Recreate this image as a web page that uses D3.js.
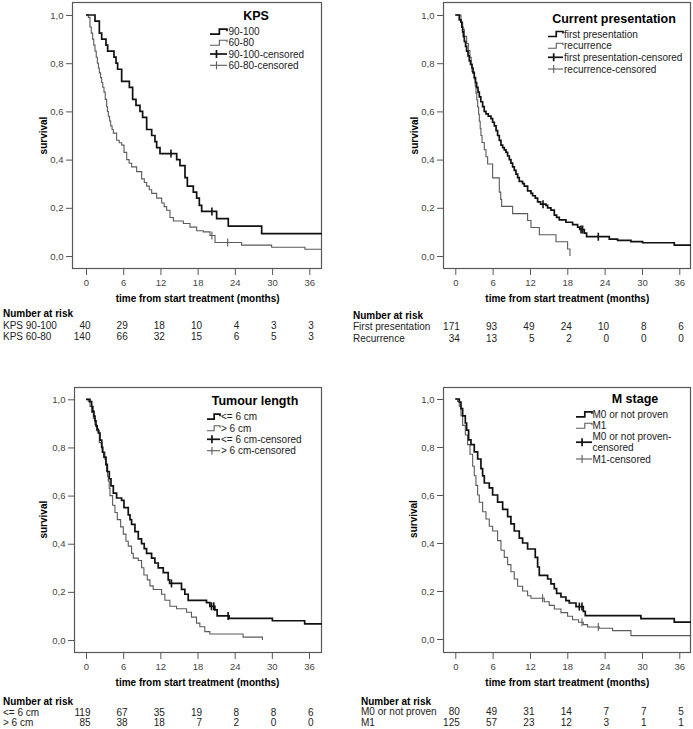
<!DOCTYPE html>
<html>
<head>
<meta charset="utf-8">
<script src="https://cdn.jsdelivr.net/npm/d3@7"></script>
<style>
body { margin: 0; background: #fff; }
svg { font-family: "Liberation Sans", Arial, sans-serif; }
</style>
</head>
<body>
<svg id="chart" width="693" height="729"></svg>
<script>
// axis ticks
var monthTicks = [0, 6, 12, 18, 24, 30, 36];
var survTicks = [0, 0.2, 0.4, 0.6, 0.8, 1.0];

// KPS 90-100 (dark) and 60-80 (grey)
var kpsHighTime = [1.45, 2.15, 2.53, 3.22, 3.49, 4.51, 4.84, 5.1, 5.75, 6.99, 7.52, 8.06, 8.7, 9.13, 9.78, 10.59, 11.12, 11.39, 11.93, 14.62, 15.15, 15.96, 16.34, 17.3, 17.84, 18.27, 18.65, 21.06, 22.94, 28.32];
var kpsHighSurv = [0.975, 0.925, 0.9, 0.875, 0.85, 0.825, 0.8, 0.775, 0.725, 0.7, 0.65, 0.625, 0.6, 0.575, 0.525, 0.5, 0.475, 0.45, 0.425, 0.4, 0.375, 0.325, 0.29, 0.265, 0.24, 0.21, 0.185, 0.155, 0.124, 0.093];
var kpsHighCens = [13.7, 20.3];
var kpsLowTime = [0.38, 0.64, 0.85, 1.07, 1.25, 1.45, 1.65, 1.83, 2.0, 2.15, 2.35, 2.53, 2.7, 2.9, 3.1, 3.33, 3.45, 3.6, 3.8, 3.98, 4.2, 4.41, 4.94, 5.35, 5.75, 6.13, 6.56, 6.95, 7.36, 8.17, 8.97, 9.4, 9.78, 10.2, 10.59, 11.39, 12.2, 12.6, 13.0, 13.54, 14.08, 15.69, 16.77, 17.84, 18.9, 19.99, 20.8, 25.09, 29.93, 35.3];
var kpsLowSurv = [0.99, 0.95, 0.925, 0.9, 0.875, 0.85, 0.825, 0.8, 0.78, 0.76, 0.74, 0.72, 0.7, 0.68, 0.65, 0.62, 0.6, 0.58, 0.56, 0.54, 0.525, 0.51, 0.48, 0.47, 0.46, 0.43, 0.40, 0.385, 0.37, 0.35, 0.32, 0.305, 0.29, 0.275, 0.26, 0.24, 0.22, 0.205, 0.19, 0.16, 0.145, 0.135, 0.12, 0.105, 0.10, 0.085, 0.056, 0.045, 0.036, 0.028];
var kpsLowCens = [20.3, 22.84];
var kpsRiskHigh = [40, 29, 18, 10, 4, 3, 3];
var kpsRiskLow = [140, 66, 32, 15, 6, 5, 3];

// Current presentation
var firstTime = [0.64, 0.91, 1.05, 1.18, 1.3, 1.45, 1.65, 1.82, 2.05, 2.25, 2.45, 2.68, 2.85, 3.05, 3.25, 3.43, 3.65, 3.86, 4.1, 4.39, 4.65, 4.93, 5.3, 5.73, 6.0, 6.27, 6.55, 6.8, 7.07, 7.34, 7.61, 7.87, 8.14, 8.41, 8.68, 8.94, 9.21, 9.48, 9.75, 10.02, 10.28, 10.82, 11.09, 11.62, 12.16, 12.43, 12.85, 13.23, 13.7, 14.57, 14.84, 15.37, 15.91, 16.28, 16.71, 17.78, 18.85, 19.66, 20.0, 20.73, 21.1, 24.75, 26.08, 28.23, 30.1, 35.19];
var firstSurv = [0.98, 0.97, 0.95, 0.93, 0.91, 0.89, 0.87, 0.85, 0.83, 0.81, 0.795, 0.78, 0.76, 0.74, 0.72, 0.70, 0.68, 0.66, 0.64, 0.62, 0.60, 0.59, 0.58, 0.57, 0.555, 0.54, 0.52, 0.50, 0.48, 0.46, 0.45, 0.44, 0.43, 0.415, 0.40, 0.385, 0.37, 0.355, 0.34, 0.325, 0.31, 0.30, 0.29, 0.27, 0.26, 0.25, 0.24, 0.225, 0.215, 0.21, 0.20, 0.19, 0.17, 0.16, 0.15, 0.14, 0.13, 0.12, 0.11, 0.095, 0.08, 0.07, 0.065, 0.06, 0.055, 0.045];
var firstCens = [14.1, 20.2, 20.46, 22.98];
var recTime = [0.91, 1.18, 1.45, 1.82, 2.1, 2.35, 2.55, 2.68, 3.05, 3.2, 3.32, 3.45, 3.59, 3.75, 3.86, 4.0, 4.12, 4.3, 4.66, 4.93, 5.2, 6.0, 7.07, 7.3, 7.45, 9.21, 11.62, 12.16, 13.5, 16.18, 18.05, 18.43];
var recSurv = [0.971, 0.941, 0.912, 0.882, 0.853, 0.824, 0.794, 0.765, 0.735, 0.706, 0.676, 0.647, 0.618, 0.588, 0.559, 0.529, 0.5, 0.471, 0.441, 0.412, 0.382, 0.324, 0.265, 0.235, 0.206, 0.176, 0.147, 0.118, 0.088, 0.059, 0.029, 0];
var recCens = [];
var firstRisk = [171, 93, 49, 24, 10, 8, 6];
var recRisk = [34, 13, 5, 2, 0, 0, 0];

// Tumour length
var smallTime = [0.64, 0.91, 1.1, 1.29, 1.45, 1.61, 1.8, 1.99, 2.26, 2.53, 2.7, 2.9, 3.22, 3.44, 3.76, 4.03, 4.41, 4.94, 5.75, 6.13, 6.82, 7.1, 7.36, 7.9, 8.44, 8.97, 9.4, 9.78, 10.59, 11.12, 11.66, 12.47, 13.27, 13.5, 15.42, 15.96, 16.5, 19.45, 20.0, 20.8, 21.17, 23.1, 30.09, 35.3];
var smallSurv = [0.99, 0.97, 0.95, 0.93, 0.91, 0.89, 0.875, 0.86, 0.83, 0.80, 0.78, 0.76, 0.73, 0.70, 0.67, 0.64, 0.61, 0.59, 0.58, 0.55, 0.52, 0.50, 0.48, 0.45, 0.42, 0.40, 0.38, 0.36, 0.34, 0.32, 0.30, 0.28, 0.25, 0.235, 0.21, 0.19, 0.165, 0.155, 0.14, 0.125, 0.10, 0.09, 0.08, 0.067];
var smallCens = [13.8, 20.26, 20.63, 22.94];
var largeTime = [0.38, 0.64, 0.9, 1.18, 1.45, 1.72, 2.15, 2.6, 3.06, 3.2, 3.33, 3.47, 3.6, 3.75, 3.87, 4.3, 4.67, 5.05, 5.59, 6.02, 6.45, 6.82, 7.36, 7.63, 8.44, 8.97, 9.35, 9.89, 10.32, 10.85, 12.2, 12.74, 13.54, 14.62, 16.23, 17.03, 17.84, 18.38, 19.18, 19.99, 25.36, 28.48];
var largeSurv = [0.99, 0.97, 0.945, 0.92, 0.895, 0.87, 0.82, 0.78, 0.75, 0.725, 0.70, 0.68, 0.66, 0.63, 0.60, 0.56, 0.53, 0.50, 0.47, 0.44, 0.41, 0.39, 0.36, 0.34, 0.33, 0.30, 0.27, 0.25, 0.225, 0.21, 0.19, 0.165, 0.14, 0.13, 0.115, 0.095, 0.07, 0.055, 0.035, 0.025, 0.012, 0];
var largeCens = [];
var smallRisk = [119, 67, 35, 19, 8, 8, 6];
var largeRisk = [85, 38, 18, 7, 2, 0, 0];

// M stage
var m0Time = [0.64, 0.91, 1.18, 1.61, 1.82, 2.14, 2.52, 3.05, 3.59, 4.12, 4.39, 4.66, 5.46, 6.0, 6.8, 7.61, 8.41, 8.94, 9.48, 10.28, 10.82, 11.62, 12.85, 13.23, 13.5, 14.84, 15.37, 15.91, 16.28, 16.98, 17.78, 18.32, 19.4, 20.57, 20.89, 29.83, 35.19];
var m0Surv = [0.9875, 0.96, 0.93, 0.90, 0.87, 0.83, 0.81, 0.78, 0.75, 0.71, 0.68, 0.65, 0.63, 0.60, 0.57, 0.54, 0.51, 0.48, 0.45, 0.42, 0.40, 0.375, 0.34, 0.30, 0.265, 0.25, 0.23, 0.21, 0.19, 0.175, 0.16, 0.15, 0.135, 0.115, 0.097, 0.085, 0.07];
var m0Cens = [19.93, 20.36];
var m1Time = [0.37, 0.64, 0.91, 1.18, 1.61, 1.98, 2.36, 2.79, 3.05, 3.32, 3.59, 3.86, 4.39, 4.93, 5.46, 6.0, 6.8, 7.34, 7.87, 8.41, 8.94, 9.48, 10.02, 10.82, 11.62, 12.16, 14.3, 15.1, 15.91, 16.98, 18.05, 18.85, 19.8, 20.57, 21.26, 23.14, 25.28, 28.23];
var m1Surv = [0.99, 0.97, 0.93, 0.89, 0.85, 0.81, 0.77, 0.72, 0.68, 0.64, 0.60, 0.57, 0.53, 0.50, 0.47, 0.45, 0.41, 0.37, 0.34, 0.31, 0.28, 0.25, 0.22, 0.20, 0.18, 0.17, 0.155, 0.14, 0.125, 0.11, 0.095, 0.08, 0.07, 0.06, 0.05, 0.045, 0.035, 0.014];
var m1Cens = [14.03, 20.36, 22.98];
var m0Risk = [80, 49, 31, 14, 7, 7, 5];
var m1Risk = [125, 57, 23, 12, 3, 1, 1];

var DARK = "#111", GREY = "#5a5a5a", FRAME = "#585858";

var panels = [
  { title: "KPS", x0: 86, x36: 309.3, y0: 256, y1: 15, fl: 72, fr: 322, ft: 2, fb: 269, survX: 43,
    xLabY: 286.5, xTitleY: 301.5,
    lg: { tx: 256, ty: 19.5, s0: 210, s1: 227, t: 228.5, rows: [31.7, 42.7, 54, 65.3] },
    labels: ["90-100", "60-80", "90-100-censored", "60-80-censored"],
    nar: { x: 3, head: 316.8, r1: 328.5, r2: 339.5 },
    series: [
      { time: kpsHighTime, surv: kpsHighSurv, cens: kpsHighCens, end: 40, dark: true },
      { time: kpsLowTime, surv: kpsLowSurv, cens: kpsLowCens, end: 40, dark: false }
    ],
    riskNames: ["KPS 90-100", "KPS 60-80"], risk: [kpsRiskHigh, kpsRiskLow] },
  { title: "Current presentation", x0: 455.3, x36: 679.3, y0: 256, y1: 15, fl: 443, fr: 691, ft: 2, fb: 269, survX: 414,
    xLabY: 286.5, xTitleY: 301.5,
    lg: { tx: 614, ty: 22.6, s0: 548, s1: 563, t: 564, rows: [34, 45.7, 57.3, 69] },
    labels: ["first presentation", "recurrence", "first presentation-censored", "recurrence-censored"],
    nar: { x: 353, head: 318.5, r1: 330.2, r2: 341.8 },
    series: [
      { time: firstTime, surv: firstSurv, cens: firstCens, end: 40, dark: true },
      { time: recTime, surv: recSurv, cens: recCens, end: 18.43, dark: false }
    ],
    riskNames: ["First presentation", "Recurrence"], risk: [firstRisk, recRisk] },
  { title: "Tumour length", x0: 86, x36: 309, y0: 640, y1: 399.3, fl: 74, fr: 322, ft: 387, fb: 653, survX: 43,
    xLabY: 669.5, xTitleY: 685.5,
    lg: { tx: 255, ty: 405.3, s0: 207, s1: 220, t: 221, rows: [416.7, 428.3, 439.3, 450.7] },
    labels: ["<= 6 cm", "> 6 cm", "<= 6 cm-censored", "> 6 cm-censored"],
    nar: { x: 3, head: 704.6, r1: 715.6, r2: 726.4 },
    series: [
      { time: smallTime, surv: smallSurv, cens: smallCens, end: 40, dark: true },
      { time: largeTime, surv: largeSurv, cens: largeCens, end: 28.48, dark: false }
    ],
    riskNames: ["<= 6 cm", "> 6 cm"], risk: [smallRisk, largeRisk] },
  { title: "M stage", x0: 455.3, x36: 679.3, y0: 639, y1: 399, fl: 443, fr: 691, ft: 387, fb: 653, survX: 413,
    xLabY: 669.5, xTitleY: 685.5,
    lg: { tx: 635, ty: 403.3, s0: 576, s1: 592, t: 592.5, rows: [414.3, 425.7, [436.7, 447.7], 459] },
    labels: ["M0 or not proven", "M1", ["M0 or not proven-", "censored"], "M1-censored"],
    nar: { x: 361, head: 704.6, r1: 715.3, r2: 726.3 },
    series: [
      { time: m0Time, surv: m0Surv, cens: m0Cens, end: 40, dark: true },
      { time: m1Time, surv: m1Surv, cens: m1Cens, end: 40, dark: false }
    ],
    riskNames: ["M0 or not proven", "M1"], risk: [m0Risk, m1Risk] }
];

var svg = d3.select("#chart");
var defs = svg.append("defs");

function survAt(time, surv, t) {
  var s = 1;
  for (var i = 0; i < time.length; i++) { if (time[i] <= t) s = surv[i]; }
  return s;
}

var commaFmt = function(d) { return d3.format(".1f")(d).replace(".", ","); };

panels.forEach(function(p, pi) {
  var x = d3.scaleLinear().domain([0, 36]).range([p.x0, p.x36]);
  var y = d3.scaleLinear().domain([0, 1]).range([p.y0, p.y1]);
  var g = svg.append("g");

  defs.append("clipPath").attr("id", "clip" + pi)
    .append("rect").attr("x", p.fl).attr("y", p.ft).attr("width", p.fr - p.fl).attr("height", p.fb - p.ft);

  // frame
  g.append("rect")
    .attr("x", p.fl + 0.5).attr("y", p.ft + 0.5)
    .attr("width", p.fr - p.fl - 1).attr("height", p.fb - p.ft - 1)
    .attr("fill", "none").attr("stroke", FRAME).attr("stroke-width", 1.2);

  // x axis
  var xa = g.append("g").attr("transform", "translate(0," + p.fb + ")")
    .call(d3.axisBottom(x).tickValues(monthTicks).tickSize(6).tickPadding(4.5).tickSizeOuter(0));
  xa.select(".domain").remove();
  xa.selectAll("line").attr("stroke", FRAME);
  xa.selectAll("text").attr("font-size", "9.5px").attr("fill", "#444")
    .attr("font-family", "Liberation Sans, Arial, sans-serif");

  // y axis
  var ya = g.append("g").attr("transform", "translate(" + p.fl + ",0)")
    .call(d3.axisLeft(y).tickValues(survTicks).tickSize(6).tickPadding(2.5).tickFormat(commaFmt));
  ya.select(".domain").remove();
  ya.selectAll("line").attr("stroke", FRAME);
  ya.selectAll("text").attr("font-size", "9.5px").attr("fill", "#444")
    .attr("font-family", "Liberation Sans, Arial, sans-serif");

  g.append("text")
    .attr("transform", "translate(" + p.survX + "," + ((p.y0 + p.y1) / 2) + ") rotate(-90)")
    .attr("text-anchor", "middle").attr("dy", "0.35em")
    .attr("font-size", "10px").attr("font-weight", "bold").text("survival");

  g.append("text")
    .attr("x", x(18)).attr("y", p.xTitleY)
    .attr("text-anchor", "middle").attr("font-size", "10px").attr("font-weight", "bold")
    .text("time from start treatment (months)");

  // curves
  var line = d3.line().x(function(d) { return x(d[0]); }).y(function(d) { return y(d[1]); })
    .curve(d3.curveStepAfter);
  var plot = g.append("g").attr("clip-path", "url(#clip" + pi + ")");
  p.series.slice().reverse().forEach(function(s) {
    var pts = [[0, 1]];
    s.time.forEach(function(t, i) { pts.push([t, s.surv[i]]); });
    pts.push([s.end, s.surv[s.surv.length - 1]]);
    plot.append("path").attr("d", line(pts))
      .attr("fill", "none")
      .attr("stroke", s.dark ? DARK : GREY)
      .attr("stroke-width", s.dark ? 1.7 : 1.1);
    s.cens.forEach(function(t) {
      var v = survAt(s.time, s.surv, t);
      plot.append("line")
        .attr("x1", x(t)).attr("x2", x(t))
        .attr("y1", y(v) - 4).attr("y2", y(v) + 4)
        .attr("stroke", s.dark ? DARK : GREY)
        .attr("stroke-width", s.dark ? 1.6 : 1.1);
    });
  });

  // legend
  var lg = p.lg;
  g.append("text").attr("x", lg.tx).attr("y", lg.ty)
    .attr("text-anchor", "middle").attr("font-size", "12.5px").attr("font-weight", "bold")
    .text(p.title);
  p.labels.forEach(function(lab, i) {
    var row = lg.rows[i];
    var yc = Array.isArray(row) ? (row[0] + row[1]) / 2 : row;
    var dark = (i % 2 === 0);
    var col = dark ? DARK : GREY, sw = dark ? 1.7 : 1.1;
    if (i < 2) {
      var mid = lg.s0 + (lg.s1 - lg.s0) * 0.55;
      g.append("path")
        .attr("d", "M" + lg.s0 + "," + (yc + 2.5) + "H" + mid + "V" + (yc - 2.5) + "H" + lg.s1 + "V" + (yc - 0.5))
        .attr("fill", "none").attr("stroke", col).attr("stroke-width", sw);
    } else {
      var mc = lg.s0 + (lg.s1 - lg.s0) * 0.38;
      g.append("line").attr("x1", lg.s0).attr("x2", lg.s1).attr("y1", yc).attr("y2", yc)
        .attr("stroke", col).attr("stroke-width", sw);
      g.append("line").attr("x1", mc).attr("x2", mc).attr("y1", yc - 4).attr("y2", yc + 4)
        .attr("stroke", col).attr("stroke-width", sw);
    }
    var labs = Array.isArray(lab) ? lab : [lab];
    var rows = Array.isArray(row) ? row : [row];
    labs.forEach(function(l, k) {
      g.append("text").attr("x", lg.t).attr("y", rows[k] + 3.6)
        .attr("font-size", "10px").attr("fill", "#222").text(l);
    });
  });

  // number at risk
  g.append("text").attr("x", p.nar.x).attr("y", p.nar.head)
    .attr("font-size", "10px").attr("font-weight", "bold").text("Number at risk");
  [p.nar.r1, p.nar.r2].forEach(function(ry, r) {
    g.append("text").attr("x", p.nar.x).attr("y", ry)
      .attr("font-size", "10px").attr("fill", "#222").text(p.riskNames[r]);
    g.selectAll(null).data(p.risk[r]).enter().append("text")
      .attr("x", function(d, i) { return x(monthTicks[i]) + 4.5; })
      .attr("y", ry)
      .attr("text-anchor", "end").attr("font-size", "10px").attr("fill", "#222")
      .text(function(d) { return d; });
  });
});
</script>
</body>
</html>
